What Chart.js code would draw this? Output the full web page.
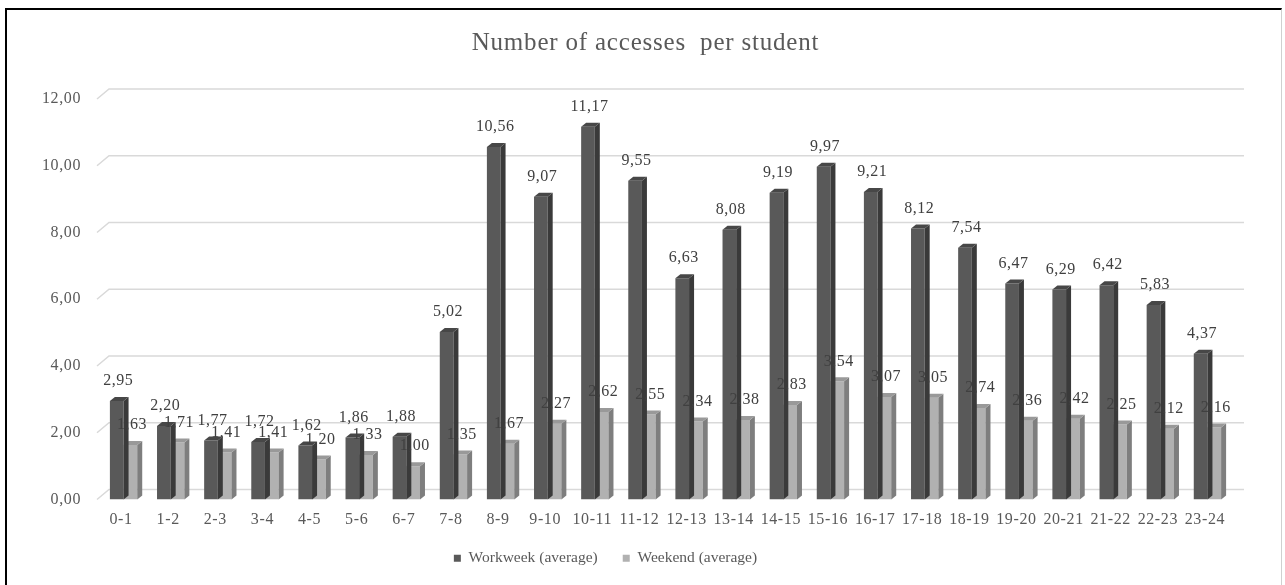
<!DOCTYPE html>
<html>
<head>
<meta charset="utf-8">
<script src="https://cdn.jsdelivr.net/npm/chart.js@4/dist/chart.umd.min.js"></script>
<style>
  html, body { margin: 0; padding: 0; background: #fff; }
  #frame {
    position: absolute; left: 5px; top: 8px; width: 1277px; height: 600px;
    border-top: 2px solid #000; border-left: 2px solid #000; border-right: 1px solid #d0d0d0;
    box-sizing: border-box;
  }
  #wrap { position: absolute; left: 0; top: 0; width: 1285px; height: 585px; }
</style>
</head>
<body>
<div id="frame"></div>
<div id="wrap"><canvas id="c" width="1285" height="585"></canvas></div>
<script>
// Hour-of-day slots
const hours = ['0-1','1-2','2-3','3-4','4-5','5-6','6-7','7-8','8-9','9-10','10-11','11-12',
  '12-13','13-14','14-15','15-16','16-17','17-18','18-19','19-20','20-21','21-22','22-23','23-24'];

// Average accesses per student
const workweek = [2.95, 2.20, 1.77, 1.72, 1.62, 1.86, 1.88, 5.02, 10.56, 9.07, 11.17, 9.55,
  6.63, 8.08, 9.19, 9.97, 9.21, 8.12, 7.54, 6.47, 6.29, 6.42, 5.83, 4.37];
const weekend = [1.63, 1.71, 1.41, 1.41, 1.20, 1.33, 1.00, 1.35, 1.67, 2.27, 2.62, 2.55,
  2.34, 2.38, 2.83, 3.54, 3.07, 3.05, 2.74, 2.36, 2.42, 2.25, 2.12, 2.16];

const yTicks = [0, 2, 4, 6, 8, 10, 12];

const FONT = "'Liberation Serif', 'Times New Roman', serif";
const fmt = v => v.toFixed(2).replace('.', ',');

// face colours per series: front, side, top
const shades = [
  { front: '#595959', side: '#3a3a3a', top: '#474747' },
  { front: '#b1b1b1', side: '#7e7e7e', top: '#999999' }
];
const DX = 5, DY = 4;           // bar depth projection
const GX = 12, GY = 10;         // back wall offset for gridlines

// back-wall gridlines with the slanted side edge
const backGrid = {
  id: 'backGrid',
  beforeDatasetsDraw(chart) {
    const { ctx, chartArea, scales: { y } } = chart;
    ctx.save();
    ctx.strokeStyle = '#d9d9d9';
    ctx.lineWidth = 1.5;
    yTicks.forEach(v => {
      const fy = y.getPixelForValue(v);
      ctx.beginPath();
      ctx.moveTo(chartArea.left - 3, fy);
      ctx.lineTo(chartArea.left - 3 + GX, fy - GY);
      ctx.lineTo(chartArea.right + 13, fy - GY);
      ctx.stroke();
    });
    ctx.restore();
  }
};

// side and top faces of each column
const depthFaces = {
  id: 'depthFaces',
  afterDatasetDraw(chart, args) {
    const { ctx } = chart;
    const c = shades[args.index];
    ctx.save();
    args.meta.data.forEach(bar => {
      const p = bar.getProps(['x', 'y', 'base', 'width'], true);
      const l = p.x - p.width / 2, r = p.x + p.width / 2;
      const t = p.y, b = p.base;
      ctx.fillStyle = c.side;
      ctx.beginPath();
      ctx.moveTo(r, t); ctx.lineTo(r + DX, t - DY); ctx.lineTo(r + DX, b - DY); ctx.lineTo(r, b);
      ctx.closePath(); ctx.fill();
      ctx.fillStyle = c.top;
      ctx.beginPath();
      ctx.moveTo(l, t); ctx.lineTo(l + DX, t - DY); ctx.lineTo(r + DX, t - DY); ctx.lineTo(r, t);
      ctx.closePath(); ctx.fill();
    });
    ctx.restore();
  }
};

// value labels above every column
const valueLabels = {
  id: 'valueLabels',
  afterDatasetsDraw(chart) {
    const { ctx } = chart;
    ctx.save();
    ctx.letterSpacing = '0.5px';
    ctx.font = '16px ' + FONT;
    ctx.fillStyle = '#404040';
    ctx.textAlign = 'center';
    ctx.textBaseline = 'middle';
    chart.data.datasets.forEach((ds, i) => {
      chart.getDatasetMeta(i).data.forEach((bar, j) => {
        const p = bar.getProps(['x', 'y'], true);
        ctx.fillText(fmt(ds.data[j]), p.x + 1.5, p.y - 20);
      });
    });
    ctx.restore();
  }
};

// text spacing per block, and title/legend placement
const textTuning = {
  id: 'textTuning',
  afterLayout(chart) {
    const ctx = chart.ctx;
    const lg = chart.legend;
    const tb = chart.titleBlock;
    if (lg) { lg.left -= 10; lg.right -= 10; }
    if (tb) { tb.left += 30; tb.right += 30; }
    if (tb && !tb._spaced) {
      const drawTitle = tb.draw.bind(tb);
      tb.draw = (area) => { ctx.letterSpacing = '0.8px'; drawTitle(area); ctx.letterSpacing = '0.6px'; };
      tb._spaced = true;
    }
    if (lg && !lg._spaced) {
      const drawLegend = lg.draw.bind(lg);
      lg.draw = (area) => { ctx.letterSpacing = '0px'; drawLegend(area); ctx.letterSpacing = '0.6px'; };
      lg._spaced = true;
    }
  },
  beforeDraw(chart) { chart.ctx.letterSpacing = '0.6px'; },
  afterDraw(chart) { chart.ctx.letterSpacing = '0px'; }
};

new Chart(document.getElementById('c'), {
  type: 'bar',
  data: {
    labels: hours,
    datasets: [
      { label: 'Workweek (average)', data: workweek, backgroundColor: shades[0].front,
        categoryPercentage: 0.58, barPercentage: 1.0 },
      { label: 'Weekend (average)', data: weekend, backgroundColor: shades[1].front,
        categoryPercentage: 0.58, barPercentage: 1.0 }
    ]
  },
  options: {
    responsive: false,
    animation: false,
    devicePixelRatio: 1,
    layout: { padding: { left: 0, right: 54, top: 0, bottom: 9 } },
    plugins: {
      tooltip: { enabled: false },
      title: {
        display: true,
        text: 'Number of accesses  per student',
        color: '#595959',
        font: { family: FONT, size: 25, weight: 'normal' },
        padding: { top: 28, bottom: 41 }
      },
      legend: {
        position: 'bottom',
        labels: {
          color: '#595959',
          font: { family: FONT, size: 15.5 },
          boxWidth: 7, boxHeight: 7,
          padding: 25
        }
      }
    },
    scales: {
      x: {
        grid: { display: false, drawTicks: false },
        border: { display: false },
        ticks: { color: '#595959', font: { family: FONT, size: 16 }, padding: 11,
                 labelOffset: -2.5, maxRotation: 0, autoSkip: false },
        afterFit(s) { s.height = 26; }
      },
      y: {
        min: 0, max: 12,
        grid: { display: false, drawTicks: false },
        border: { display: false },
        ticks: { stepSize: 2, color: '#595959', font: { family: FONT, size: 16 }, padding: 19,
                 callback: v => fmt(v) },
        afterFit(s) { s.width = 100; }
      }
    }
  },
  plugins: [backGrid, depthFaces, valueLabels, textTuning]
});
</script>
</body>
</html>
